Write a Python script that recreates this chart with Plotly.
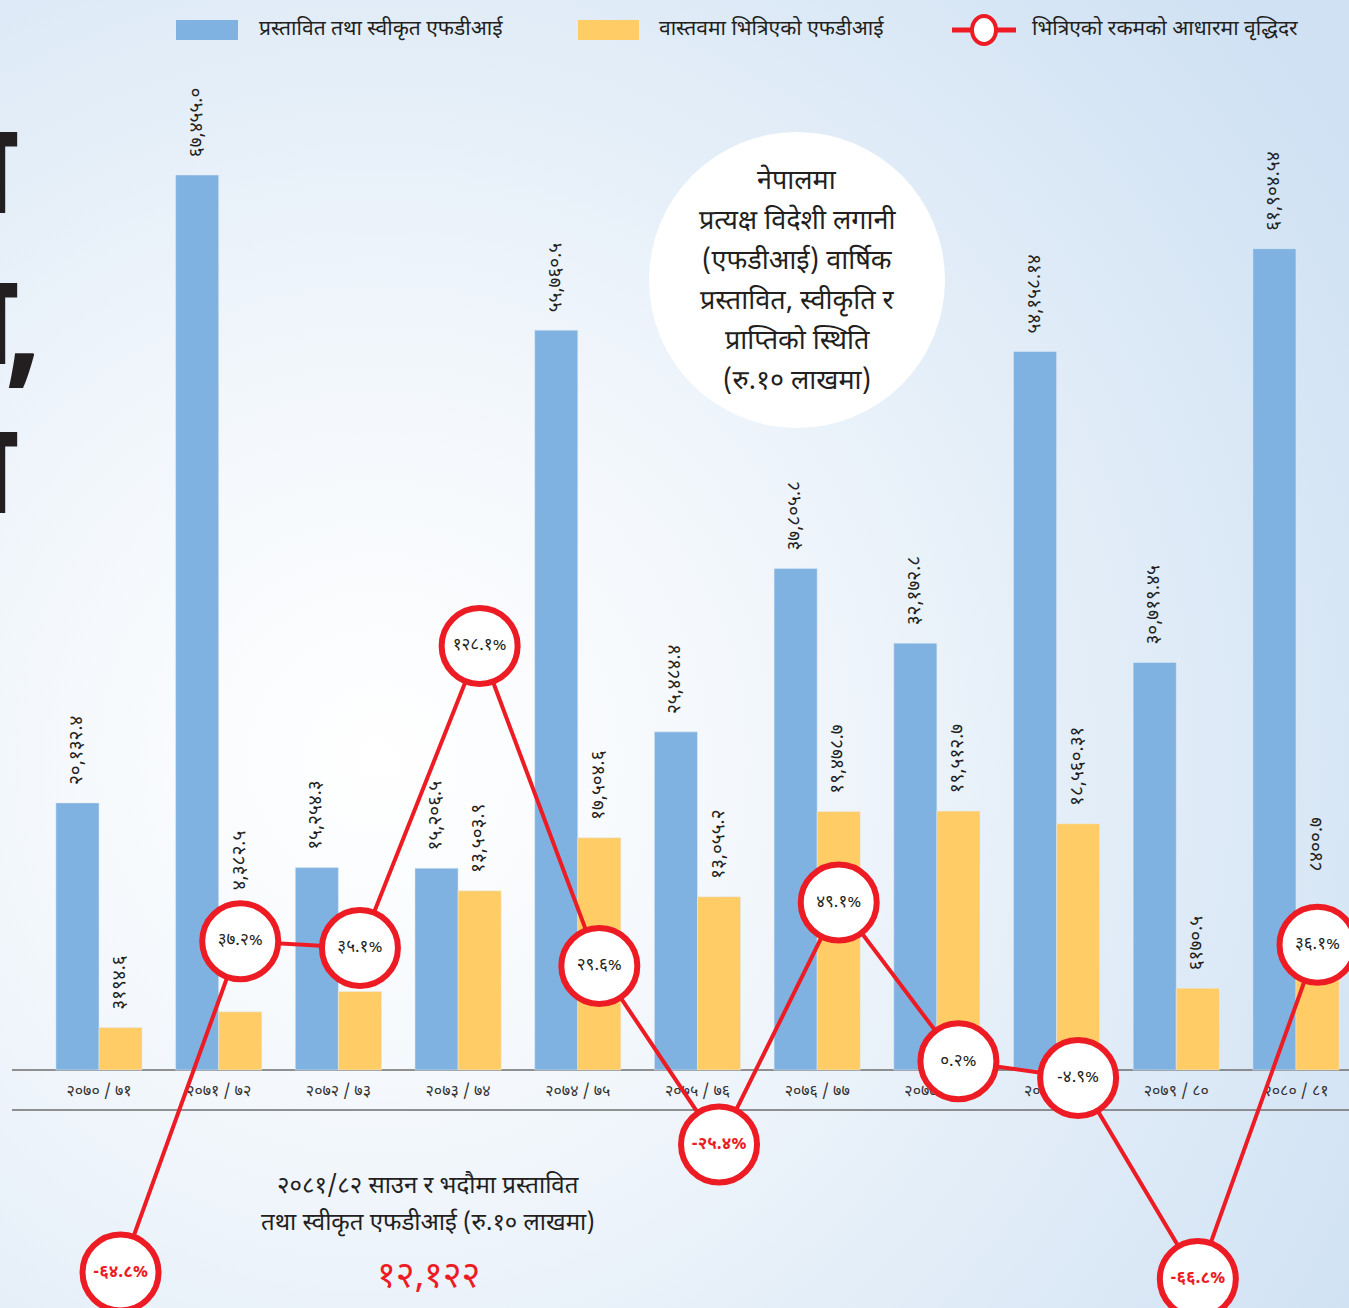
import base64
import plotly.graph_objects as go

# ---------------- data ----------------
years = ["२०७०/७१", "२०७१/७२", "२०७२/७३", "२०७३/७४", "२०७४/७५", "२०७५/७६",
         "२०७६/७७", "२०७७/७८", "२०७८/७९", "२०७९/८०", "२०८०/८१"]
tick_text = ["२०७० / ७१", "२०७१ / ७२", "२०७२ / ७३", "२०७३ / ७४", "२०७४ / ७५", "२०७५ / ७६",
             "२०७६ / ७७", "२०७७ / ७८", "२०७८ / ७९", "२०७९ / ८०", "२०८० / ८१"]

proposed = [20132.4, 67455.0, 15254.3, 15206.5, 55760.5, 25484.4,
            37805.8, 32172.8, 54158.14, 30719.45, 61904.54]
proposed_labels = ["२०,१३२.४", "६७,४५५.०", "१५,२५४.३", "१५,२०६.५", "५५,७६०.५", "२५,४८४.४",
                   "३७,८०५.८", "३२,१७२.८", "५४,१५८.१४", "३०,७१९.४५", "६१,९०४.५४"]

actual = [3194.6, 4382.5, 5920.9, 13503.9, 17504.6, 13055.2,
          19478.7, 19512.7, 18560.31, 6170.5, 8400.7]
actual_labels = ["३१९४.६", "४,३८२.५", "५,९२०.९", "१३,५०३.९", "१७,५०४.६", "१३,०५५.२",
                 "१९,४७८.७", "१९,५१२.७", "१८,५६०.३१", "६१७०.५", "८४००.७"]

growth = [-64.8, 37.2, 35.1, 128.1, 29.6, -25.4, 49.1, 0.2, -4.9, -66.8, 36.1]
growth_labels = ["-६४.८%", "३७.२%", "३५.१%", "१२८.१%", "२९.६%", "-२५.४%",
                 "४९.१%", "०.२%", "-४.९%", "-६६.८%", "३६.१%"]
growth_highlight = [True, False, False, False, False, True, False, False, False, True, False]

series_names = ["प्रस्तावित तथा स्वीकृत एफडीआई", "वास्तवमा भित्रिएको एफडीआई",
                "भित्रिएको रकमको आधारमा वृद्धिदर"]

title_lines = ["नेपालमा", "प्रत्यक्ष विदेशी लगानी", "(एफडीआई) वार्षिक",
               "प्रस्तावित, स्वीकृति र", "प्राप्तिको स्थिति", "(रु.१० लाखमा)"]
note_lines = ["२०८१/८२ साउन र भदौमा प्रस्तावित", "तथा स्वीकृत एफडीआई (रु.१० लाखमा)"]
note_value = "१२,१२२"

# ---------------- styling ----------------
W, H = 1349, 1308
FONT = "Noto Sans Devanagari, Noto Sans, DejaVu Sans, sans-serif"
BLUE = "#7FB2E0"
YELLOW = "#FFCC66"
RED = "#ED1C24"
INK = "#231F20"
NBSP = "\u00a0"
LABEL_SIZE = 19

# label gap (in no-break spaces); two labels are lifted above the growth circles
proposed_pad = [3] * len(years)
actual_pad = [3] * len(years)
actual_pad[1] = 24
actual_pad[10] = 17


def px(x):
    return x / W


def py(y):
    return 1 - y / H


fig = go.Figure()

fig.add_trace(go.Bar(
    x=years, y=proposed, name=series_names[0], marker_color=BLUE,
    text=[NBSP * p + s for p, s in zip(proposed_pad, proposed_labels)], textposition="outside",
    textangle=-90, constraintext="none",
    textfont=dict(size=LABEL_SIZE, color=INK, family=FONT),
    cliponaxis=False, hoverinfo="skip", showlegend=False,
))
fig.add_trace(go.Bar(
    x=years, y=actual, name=series_names[1], marker_color=YELLOW,
    text=[NBSP * p + s for p, s in zip(actual_pad, actual_labels)], textposition="outside",
    textangle=-90, constraintext="none",
    textfont=dict(size=LABEL_SIZE, color=INK, family=FONT),
    cliponaxis=False, hoverinfo="skip", showlegend=False,
))
fig.add_trace(go.Scatter(
    x=years, y=growth, name=series_names[2], xaxis="x2", yaxis="y2",
    mode="lines+markers+text",
    line=dict(color=RED, width=4),
    marker=dict(size=76, color="white", line=dict(color=RED, width=6)),
    text=[f"<b>{t}</b>" if h else t for t, h in zip(growth_labels, growth_highlight)],
    textposition="middle center",
    textfont=dict(size=17, family=FONT,
                  color=[RED if h else INK for h in growth_highlight]),
    cliponaxis=False, hoverinfo="skip", showlegend=False,
))

# background gradient as svg image
svg = f'''<svg xmlns="http://www.w3.org/2000/svg" width="{W}" height="{H}" viewBox="0 0 {W} {H}" preserveAspectRatio="none">
<defs><radialGradient id="g" cx="380" cy="760" r="1150" gradientUnits="userSpaceOnUse">
<stop offset="0" stop-color="#FFFFFF"/><stop offset="0.3" stop-color="#F4F8FC"/>
<stop offset="1" stop-color="#CFE1F3"/></radialGradient></defs>
<rect width="{W}" height="{H}" fill="url(#g)"/></svg>'''
bg_src = "data:image/svg+xml;base64," + base64.b64encode(svg.encode()).decode()

x0 = -0.827
x1 = 10.443
shift = 0.18

shapes = [
    # baseline and lower rule
    dict(type="line", xref="paper", yref="paper", x0=px(12), x1=1, y0=py(1070), y1=py(1070),
         line=dict(color="#6E6E6E", width=1.5), layer="below"),
    dict(type="line", xref="paper", yref="paper", x0=px(12), x1=1, y0=py(1110), y1=py(1110),
         line=dict(color="#6E6E6E", width=1.5), layer="below"),
    # title circle
    dict(type="circle", xref="paper", yref="paper", x0=px(649), x1=px(945), y0=py(132), y1=py(428),
         fillcolor="white", line=dict(width=0), layer="below"),
    # legend swatches
    dict(type="rect", xref="paper", yref="paper", x0=px(176), x1=px(238), y0=py(20), y1=py(40),
         fillcolor=BLUE, line=dict(width=0)),
    dict(type="rect", xref="paper", yref="paper", x0=px(578), x1=px(639), y0=py(20), y1=py(40),
         fillcolor=YELLOW, line=dict(width=0)),
    dict(type="line", xref="paper", yref="paper", x0=px(952), x1=px(1016), y0=py(30), y1=py(30),
         line=dict(color=RED, width=5)),
    dict(type="circle", xref="paper", yref="paper", x0=px(972), x1=px(996), y0=py(16), y1=py(44),
         fillcolor="white", line=dict(color=RED, width=4)),
]

annotations = []
for xpos, name in zip([257, 657, 1030], series_names):
    annotations.append(dict(xref="paper", yref="paper", x=px(xpos), y=py(30), text=name,
                            showarrow=False, xanchor="left", yanchor="middle",
                            font=dict(size=21, color=INK, family=FONT)))
for i, line in enumerate(title_lines):
    annotations.append(dict(xref="paper", yref="paper", x=px(797), y=py(182 + 40 * i), text=line,
                            showarrow=False, xanchor="center", yanchor="middle",
                            font=dict(size=27, color=INK, family=FONT)))
for i, line in enumerate(note_lines):
    annotations.append(dict(xref="paper", yref="paper", x=px(428), y=py(1187 + 37 * i), text=line,
                            showarrow=False, xanchor="center", yanchor="middle",
                            font=dict(size=24, color=INK, family=FONT)))
annotations.append(dict(xref="paper", yref="paper", x=px(428), y=py(1278), text=note_value,
                        showarrow=False, xanchor="center", yanchor="middle",
                        font=dict(size=36, color=RED, family=FONT)))
# cropped headline glyphs of the neighbouring article at the left edge
for ypos in [181, 333, 482]:
    annotations.append(dict(xref="paper", yref="paper", x=px(20),
                            y=py(ypos), text="ना", showarrow=False,
                            xanchor="right", yanchor="middle",
                            font=dict(size=130, color=INK, family=FONT, weight="bold")))
annotations.append(dict(xref="paper", yref="paper", x=px(44), y=py(340), text=",",
                        showarrow=False, xanchor="right", yanchor="middle",
                        font=dict(size=130, color=INK, family=FONT, weight="bold")))

fig.update_layout(
    width=W, height=H,
    margin=dict(l=0, r=0, t=0, b=0, pad=0),
    paper_bgcolor="#EAF1F9",
    plot_bgcolor="rgba(0,0,0,0)",
    barmode="group", bargap=0.28, bargroupgap=0,
    showlegend=False,
    font=dict(family=FONT, color=INK),
    images=[dict(source=bg_src, xref="paper", yref="paper", x=0, y=1, sizex=1, sizey=1,
                 xanchor="left", yanchor="top", sizing="stretch", layer="below")],
    shapes=shapes,
    annotations=annotations,
    xaxis=dict(type="category", range=[x0, x1], anchor="free", position=py(1070),
               tickmode="array", tickvals=years, ticktext=tick_text,
               tickfont=dict(size=16, color="#333333", family=FONT),
               ticklabelstandoff=9,
               showgrid=False, zeroline=False, showline=False, ticks="",
               layer="below traces", fixedrange=True),
    xaxis2=dict(type="category", range=[x0 - shift, x1 - shift], overlaying="x",
                visible=False, fixedrange=True),
    yaxis=dict(range=[(1070 - H) / 0.013268, 1070 / 0.013268], visible=False, fixedrange=True),
    yaxis2=dict(range=[(1062 - H) / 3.247, 1062 / 3.247], overlaying="y", anchor="x2",
                visible=False, fixedrange=True),
)

fig.write_html("out.html", config={"displayModeBar": False},
               post_script="document.body.style.margin='0';document.body.style.overflow='hidden';")
